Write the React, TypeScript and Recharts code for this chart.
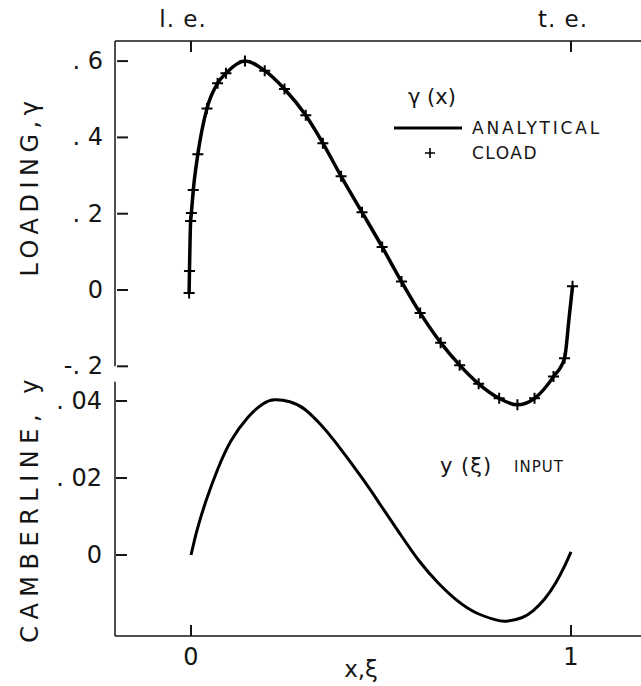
import {
  ComposedChart,
  Line,
  Scatter,
  XAxis,
  YAxis,
  ReferenceLine,
  Legend,
} from 'recharts'

// loading, analytical curve
const gammaX = [-0.005, -0.004, -0.001, 0.001, 0.006, 0.018, 0.042, 0.07, 0.092, 0.142, 0.194, 0.246, 0.302, 0.347, 0.395, 0.45, 0.503, 0.554, 0.603, 0.657, 0.707, 0.757, 0.811, 0.859, 0.904, 0.954, 0.983, 0.995, 1.004]
const gammaY = [-0.008, 0.05, 0.181, 0.202, 0.262, 0.356, 0.476, 0.542, 0.568, 0.6, 0.575, 0.527, 0.458, 0.385, 0.298, 0.204, 0.113, 0.022, -0.06, -0.138, -0.197, -0.246, -0.284, -0.301, -0.284, -0.227, -0.179, -0.073, 0.01]

// loading, CLOAD points
const cloadX = [-0.005, -0.004, -0.001, 0.001, 0.006, 0.018, 0.042, 0.07, 0.092, 0.142, 0.194, 0.246, 0.302, 0.347, 0.395, 0.45, 0.503, 0.554, 0.603, 0.657, 0.707, 0.757, 0.811, 0.859, 0.904, 0.954, 0.983, 1.004]
const cloadY = [-0.008, 0.05, 0.181, 0.202, 0.262, 0.356, 0.476, 0.542, 0.568, 0.6, 0.575, 0.527, 0.458, 0.385, 0.298, 0.204, 0.113, 0.022, -0.06, -0.138, -0.197, -0.246, -0.284, -0.301, -0.284, -0.227, -0.179, 0.01]

// camberline input
const camberX = [0, 0.01, 0.02, 0.04, 0.07, 0.105, 0.15, 0.19, 0.22, 0.26, 0.3, 0.34, 0.38, 0.45, 0.5, 0.55, 0.6, 0.65, 0.7, 0.75, 0.8, 0.83, 0.87, 0.9, 0.93, 0.96, 0.985, 1.0]
const camberY = [0, 0.0042, 0.0079, 0.0142, 0.0222, 0.0296, 0.0358, 0.0393, 0.0403, 0.0398, 0.0378, 0.034, 0.0293, 0.02, 0.0128, 0.0055, -0.0015, -0.0072, -0.0118, -0.015, -0.0168, -0.0172, -0.0163, -0.0145, -0.0115, -0.0072, -0.0025, 0.0008]

const xTicks = [0, 1]
const edgeLabels = ['l. e.', 't. e.']
const loadingTicks = [-0.2, 0, 0.2, 0.4, 0.6]
const camberTicks = [0, 0.02, 0.04]

const xDomain = [-0.2, 1.2]
const loadingDomain = [-0.9069, 0.6527]
const camberDomain = [-0.02104, 0.1335]
const loadingAxisTop = 0.6527
const loadingAxisBottom = -0.2
const camberAxisTop = 0.045
const camberAxisBottom = -0.02104

const gammaData = gammaX.map((x, i) => ({ x, y: gammaY[i] }))
const cloadData = cloadX.map((x, i) => ({ x, y: cloadY[i] }))
const camberData = camberX.map((x, i) => ({ x, y: camberY[i] }))

const FONT = '"DejaVu Sans", Verdana, sans-serif'
const INK = '#151515'
const AXIS_W = 1

const fmtTick = (v: number) => {
  if (v === 0) return '0'
  return (v < 0 ? '-' : '') + '. ' + String(Math.abs(v)).slice(2)
}

const LeftTick = (props: any) => {
  const { x, y, payload } = props
  return (
    <g>
      <path d={`M${x + 1},${y}H${x + 12}`} stroke={INK} strokeWidth={2} fill="none" />
      <text x={x - 13} y={y} textAnchor="end" dominantBaseline="central" fontSize={24} fontFamily={FONT} fill={INK}>
        {fmtTick(payload.value)}
      </text>
    </g>
  )
}

const BottomTick = (props: any) => {
  const { x, y, payload } = props
  return (
    <g>
      <path d={`M${x},${y}V${y - 11}`} stroke={INK} strokeWidth={2} fill="none" />
      <text x={x} y={y + 21} textAnchor="middle" dominantBaseline="central" fontSize={24} fontFamily={FONT} fill={INK}>
        {payload.value}
      </text>
    </g>
  )
}

const TopTick = (props: any) => {
  const { x, y, payload, index } = props
  return (
    <g>
      <path d={`M${x},${y}V${y + 11}`} stroke={INK} strokeWidth={2} fill="none" />
      <text x={x - 8} y={y - 22} textAnchor="middle" dominantBaseline="central" fontSize={23} letterSpacing={1} fontFamily={FONT} fill={INK}>
        {edgeLabels[index] ?? payload.value}
      </text>
    </g>
  )
}

const Plus = (props: any) => {
  const { cx, cy } = props
  return <path d={`M${cx - 5.5},${cy}H${cx + 5.5}M${cx},${cy - 5.5}V${cy + 5.5}`} stroke="#000" strokeWidth={2} />
}

const LegendBox = () => (
  <svg width={240} height={80} style={{ display: 'block' }}>
    <text x={14} y={14} dominantBaseline="central" fontSize={21} fontFamily={FONT} fill={INK}>γ (x)</text>
    <line x1={0} x2={68} y1={45} y2={45} stroke="#000" strokeWidth={3} />
    <text x={78} y={45} dominantBaseline="central" fontSize={17} letterSpacing={2.8} fontFamily={FONT} fill={INK}>ANALYTICAL</text>
    <path d="M31,70H41M36,65V75" stroke="#000" strokeWidth={1.6} />
    <text x={78} y={70} dominantBaseline="central" fontSize={17} letterSpacing={1.5} fontFamily={FONT} fill={INK}>CLOAD</text>
  </svg>
)

export default function App() {
  return (
    <div style={{ position: 'absolute', left: 0, top: 0, width: 641, height: 686, overflow: 'hidden', background: '#fff' }}>
      <ComposedChart width={660} height={686} margin={{ top: 0, right: 13, bottom: 0, left: 115 }}>
        <XAxis
          xAxisId="b"
          dataKey="x"
          type="number"
          domain={xDomain}
          ticks={xTicks}
          interval={0}
          allowDataOverflow
          height={50}
          tickSize={0}
          tickMargin={0}
          tick={BottomTick}
          axisLine={{ stroke: INK, strokeWidth: 1.5 }}
          label={{ value: 'x,ξ', position: 'insideBottom', offset: 9, dx: -20, fontSize: 23, fontFamily: FONT, fill: INK }}
        />
        <XAxis
          xAxisId="t"
          orientation="top"
          dataKey="x"
          type="number"
          domain={xDomain}
          ticks={xTicks}
          interval={0}
          allowDataOverflow
          height={41}
          tickSize={0}
          tickMargin={0}
          tick={TopTick}
          axisLine={{ stroke: INK, strokeWidth: 1.5 }}
        />
        <YAxis
          yAxisId="g"
          dataKey="y"
          type="number"
          mirror
          width={AXIS_W}
          domain={loadingDomain}
          ticks={loadingTicks}
          interval={0}
          allowDataOverflow
          axisLine={false}
          tickSize={0}
          tickMargin={0}
          tick={LeftTick}
        />
        <YAxis
          yAxisId="c"
          dataKey="y"
          type="number"
          mirror
          width={AXIS_W}
          domain={camberDomain}
          ticks={camberTicks}
          interval={0}
          allowDataOverflow
          axisLine={false}
          tickSize={0}
          tickMargin={0}
          tick={LeftTick}
        />
        <ReferenceLine
          xAxisId="b"
          yAxisId="g"
          ifOverflow="visible"
          segment={[{ x: xDomain[0], y: loadingAxisBottom }, { x: xDomain[0], y: loadingAxisTop }]}
          stroke={INK}
          strokeWidth={1.5}
        />
        <ReferenceLine
          xAxisId="b"
          yAxisId="c"
          ifOverflow="visible"
          segment={[{ x: xDomain[0], y: camberAxisBottom }, { x: xDomain[0], y: camberAxisTop }]}
          stroke={INK}
          strokeWidth={1.5}
        />
        <Line
          xAxisId="b"
          yAxisId="g"
          data={gammaData}
          dataKey="y"
          type="monotone"
          stroke="#000"
          strokeWidth={3.5}
          dot={false}
          isAnimationActive={false}
          name="ANALYTICAL"
        />
        <Scatter
          xAxisId="b"
          yAxisId="g"
          data={cloadData}
          dataKey="y"
          shape={Plus}
          isAnimationActive={false}
          name="CLOAD"
        />
        <Line
          xAxisId="b"
          yAxisId="c"
          data={camberData}
          dataKey="y"
          type="natural"
          stroke="#000"
          strokeWidth={3}
          dot={false}
          isAnimationActive={false}
          name="y (ξ) INPUT"
          legendType="none"
        />
        <Legend
          layout="vertical"
          align="center"
          verticalAlign="middle"
          content={LegendBox}
          wrapperStyle={{ position: 'absolute', left: 394, top: 83, width: 240, height: 80 }}
        />
      </ComposedChart>
      <svg width={641} height={686} style={{ position: 'absolute', left: 0, top: 0, pointerEvents: 'none' }}>
        <text transform="translate(30,186) rotate(-90)" textAnchor="middle" dominantBaseline="central" fontSize={24} letterSpacing={5.5} fontFamily={FONT} fill={INK}>LOADING,γ</text>
        <text transform="translate(30,508) rotate(-90)" textAnchor="middle" dominantBaseline="central" fontSize={24} letterSpacing={6.5} fontFamily={FONT} fill={INK}>CAMBERLINE, y</text>
        <text x={440} y={466} dominantBaseline="central" fontSize={21} letterSpacing={1} fontFamily={FONT} fill={INK}>y (ξ)</text>
        <text x={514} y={467} dominantBaseline="central" fontSize={15} letterSpacing={1} fontFamily={FONT} fill={INK}>INPUT</text>
      </svg>
    </div>
  )
}
